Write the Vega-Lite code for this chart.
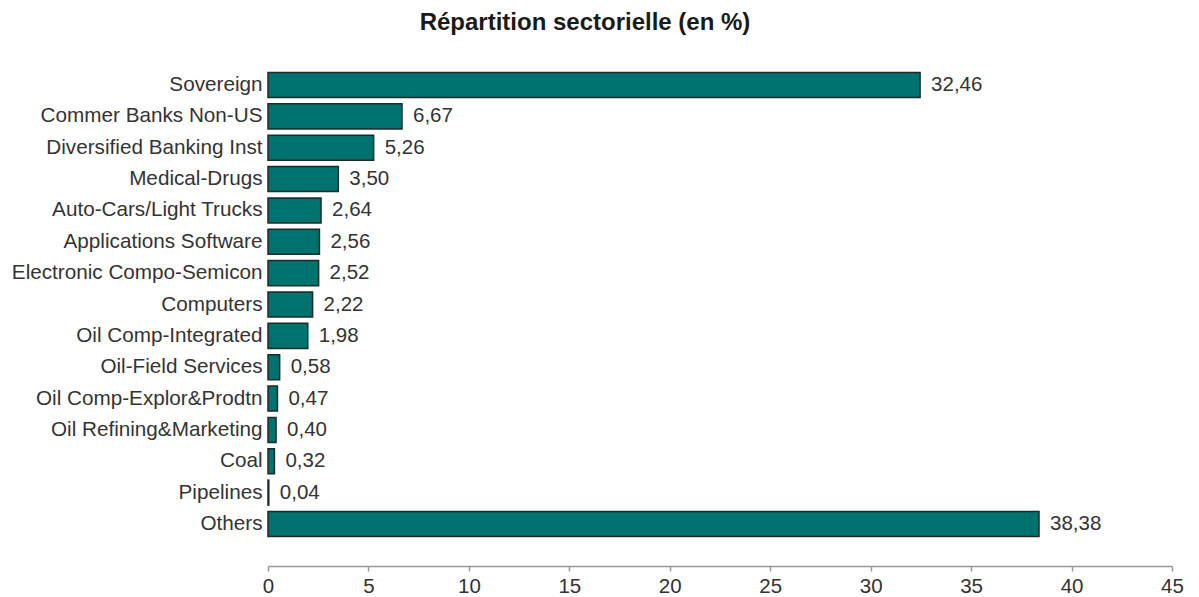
{
  "$schema": "https://vega.github.io/schema/vega-lite/v6.json",
  "autosize": {"type": "none"},
  "width": 904,
  "height": 523,
  "padding": {"left": 268, "top": 43, "right": 27, "bottom": 31},
  "config": {
    "locale": {"number": {"decimal": ",", "thousands": ".", "grouping": [3], "currency": ["", " €"]}},
    "font": "Liberation Sans",
    "view": {"stroke": null}
  },
  "title": {
    "text": "Répartition sectorielle (en %)",
    "fontSize": 24,
    "fontWeight": "bold",
    "color": "#1a1a1a",
    "anchor": "middle",
    "dx": -135,
    "offset": 8,
    "font": "Liberation Sans"
  },
  "data": {
    "values": [
      {"sector": "Sovereign", "value": 32.46},
      {"sector": "Commer Banks Non-US", "value": 6.67},
      {"sector": "Diversified Banking Inst", "value": 5.26},
      {"sector": "Medical-Drugs", "value": 3.50},
      {"sector": "Auto-Cars/Light Trucks", "value": 2.64},
      {"sector": "Applications Software", "value": 2.56},
      {"sector": "Electronic Compo-Semicon", "value": 2.52},
      {"sector": "Computers", "value": 2.22},
      {"sector": "Oil Comp-Integrated", "value": 1.98},
      {"sector": "Oil-Field Services", "value": 0.58},
      {"sector": "Oil Comp-Explor&Prodtn", "value": 0.47},
      {"sector": "Oil Refining&Marketing", "value": 0.40},
      {"sector": "Coal", "value": 0.32},
      {"sector": "Pipelines", "value": 0.04},
      {"sector": "Others", "value": 38.38}
    ]
  },
  "encoding": {
    "y": {
      "field": "sector",
      "type": "nominal",
      "sort": null,
      "scale": {"paddingInner": 0.2, "paddingOuter": 0.94},
      "axis": {
        "title": null,
        "domain": false,
        "ticks": false,
        "labelPadding": 6,
        "labelFontSize": 20.7,
        "labelLimit": 300,
        "labelColor": "#333333",
        "labelFont": "Liberation Sans"
      }
    },
    "x": {
      "field": "value",
      "type": "quantitative",
      "scale": {"domain": [0, 45], "nice": false},
      "axis": {
        "title": null,
        "values": [0, 5, 10, 15, 20, 25, 30, 35, 40, 45],
        "grid": false,
        "labelFlush": false,
        "domainColor": "#999999",
        "domainWidth": 1.5,
        "tickColor": "#999999",
        "tickSize": 5,
        "tickWidth": 1.5,
        "labelFontSize": 20.5,
        "labelColor": "#333333",
        "labelPadding": 5,
        "labelFont": "Liberation Sans",
        "format": "d"
      }
    }
  },
  "layer": [
    {
      "mark": {"type": "bar", "fill": "#00726D", "stroke": "#1c2b2a", "strokeWidth": 1.5, "cornerRadius": 0}
    },
    {
      "mark": {"type": "text", "align": "left", "baseline": "middle", "dx": 11, "fontSize": 20.5, "color": "#333333", "font": "Liberation Sans"},
      "encoding": {
        "text": {"field": "value", "type": "quantitative", "format": ".2f"}
      }
    }
  ]
}
